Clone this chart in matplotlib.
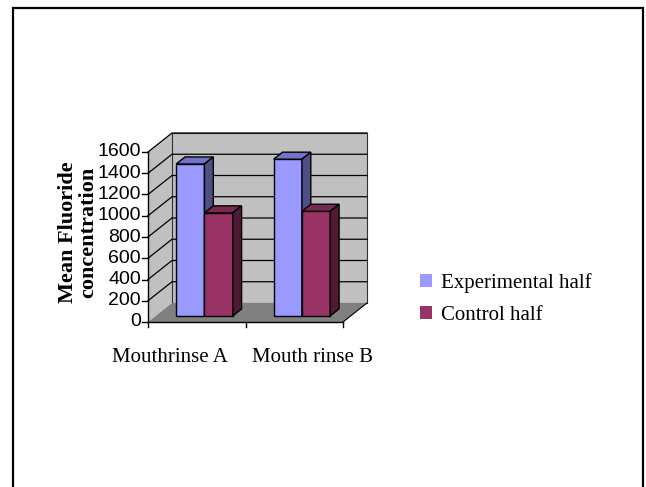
import matplotlib.pyplot as plt
from matplotlib.patches import Polygon, Rectangle, Patch

# data
categories = ['Mouthrinse A', 'Mouth rinse B']
series = ['Experimental half', 'Control half']
experimental = [1430, 1475]
control = [970, 985]
y_ticks = [0, 200, 400, 600, 800, 1000, 1200, 1400, 1600]

front_col = ['#9999FF', '#993366']
top_col = ['#7373C9', '#7A2952']
side_col = ['#4F4F85', '#4F1A35']

W, H = 646, 487
fig = plt.figure(figsize=(W / 100, H / 100), dpi=100)

# plot box in pixels (front-left-bottom corner at x0,y0)
x0, x1 = 148, 367
y0, y1 = 322, 132.3
px_x = 97.5           # px per category
px_y = 21.25 / 200    # px per unit
ax = fig.add_axes([x0 / W, 1 - y0 / H, (x1 - x0) / W, (y0 - y1) / H])
ax.set_xlim(0, (x1 - x0) / px_x)
ax.set_ylim(0, (y0 - y1) / px_y)
ax.axis('off')

ncat = len(categories)
ymax = y_ticks[-1]
dx, dy = 24 / px_x, 19 / px_y   # depth of the 3d box

# walls and floor
ax.add_patch(Polygon([(0, 0), (dx, dy), (dx, ymax + dy), (0, ymax)],
                     fc='#C0C0C0', ec='none', zorder=1, clip_on=False))
ax.add_patch(Rectangle((dx, dy), ncat, ymax, fc='#C0C0C0', ec='#303030', lw=0.8,
                       zorder=1, clip_on=False))
for t in y_ticks[1:]:
    ax.plot([0, dx, ncat + dx], [t, t + dy, t + dy], color='black', lw=0.9,
            zorder=1, clip_on=False)
ax.add_patch(Polygon([(0, 0), (ncat, 0), (ncat + dx, dy), (dx, dy)],
                     fc='#808080', ec='none', zorder=2))
ax.plot([ncat, ncat + dx], [0, dy], color='black', lw=0.8, zorder=2, clip_on=False)

# bars
fb, fd = 0.32, 0.37
bw = 0.29
bx, by = fb * dx, fb * dy
ddx, ddy = fd * dx, fd * dy
for i, vals in enumerate([experimental, control]):
    xs = [c + 0.5 + (i - 0.5) * bw + bx for c in range(ncat)]
    ax.bar(xs, vals, width=bw, bottom=by, color=front_col[i], edgecolor='black',
           lw=1, zorder=3)
    for x, v in zip(xs, vals):
        l, r = x - bw / 2, x + bw / 2
        ax.add_patch(Polygon([(l, by + v), (r, by + v), (r + ddx, by + v + ddy), (l + ddx, by + v + ddy)],
                             fc=top_col[i], ec='black', lw=1, zorder=3))
        ax.add_patch(Polygon([(r, by), (r + ddx, by + ddy), (r + ddx, by + v + ddy), (r, by + v)],
                             fc=side_col[i], ec='black', lw=1, zorder=3))

# axes lines, ticks, labels
ax.plot([0, 0], [0, ymax], color='black', lw=1, zorder=4, clip_on=False)
ax.plot([0, ncat], [0, 0], color='black', lw=1, zorder=4, clip_on=False)
for t in y_ticks:
    ax.plot([-6 / px_x, 0], [t, t], color='black', lw=1, clip_on=False)
    ax.text(-7 / px_x, t, str(t), ha='right', va='center', fontsize=14,
            family='Liberation Sans')
for c in range(ncat + 1):
    ax.plot([c, c], [0, -5 / px_y], color='black', lw=1, clip_on=False)

label_px = [170, 312]
for lab, lx in zip(categories, label_px):
    ax.text((lx - x0) / px_x, (y0 - 357) / px_y, lab, ha='center', va='center',
            fontsize=15, family='Liberation Serif')

fig.text(78 / W, 1 - 232 / H, 'Mean Fluoride\nconcentration', rotation=90,
         ha='center', va='center', fontsize=16, fontweight='bold',
         family='Liberation Serif', linespacing=1.0)

handles = [Patch(fc=c, ec='none') for c in front_col]
fig.legend(handles, series, loc='center left', bbox_to_anchor=(401 / W, 1 - 299 / H),
           frameon=False, prop={'family': 'Liberation Serif', 'size': 15},
           handlelength=0.6, handleheight=0.6, handletextpad=0.4, labelspacing=0.6)

fig.patches.append(Rectangle((13.5 / W, -0.05), (642.5 - 13.5) / W, (487 - 7.5) / H + 0.05,
                             transform=fig.transFigure, fill=False, ec='black', lw=1.6))

fig.savefig('out.png', dpi=100)
